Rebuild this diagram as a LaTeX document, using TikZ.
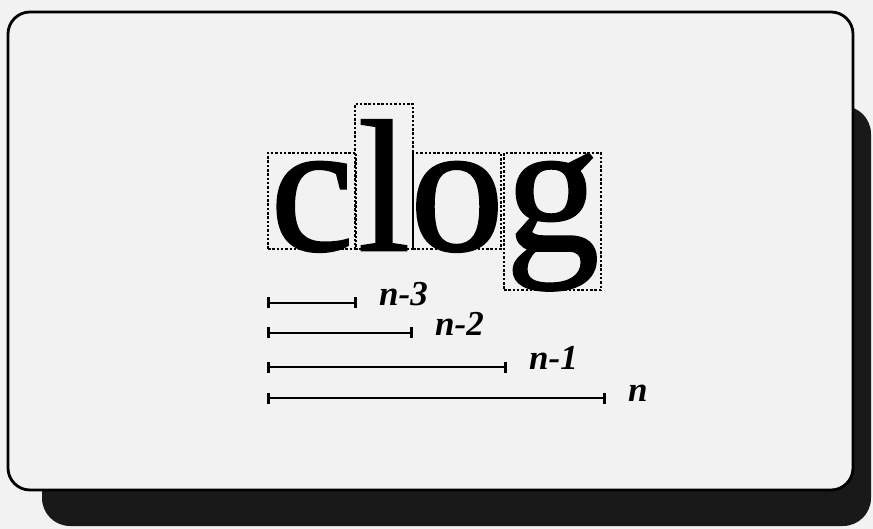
\documentclass[tikz,border=0pt]{standalone}
\usepackage{fontspec}
\setmainfont{Liberation Serif}
\newfontfamily\clogfont[FakeBold=1.1]{Liberation Serif}
\usetikzlibrary{arrows.meta,positioning}
\tikzset{lb/.style={draw,line width=2.5pt,dash pattern=on 2.5pt off 1.8pt,inner sep=0pt},gl/.style={inner sep=0pt,anchor=base,font=\fontsize{188}{188}\clogfont},br/.style={{Bar[width=11pt]}-{Bar[width=11pt]},line width=2.6pt},lab/.style={anchor=base west,inner sep=0pt,font=\fontsize{35}{35}\selectfont\bfseries\itshape}}

\begin{document}
\begin{tikzpicture}[x=1pt,y=-1pt]
\fill[black!5](0,0)rectangle(873,529);
\fill[black!90,rounded corners=28pt](42,106)rectangle(871,526);
\draw[line width=2.8pt,fill=black!5,rounded corners=22pt](8,12)rectangle(853,490);
% letter boxes
\node[lb,minimum width=88pt,minimum height=96pt](bc)at(312,201){};
\node[lb,minimum width=58pt,minimum height=145pt](bl)at(384,176.5){};
\node[lb,minimum width=88pt,minimum height=96pt](bo)at(457,201){};
\node[lb,minimum width=97pt,minimum height=137pt](bg)at(552.5,221.5){};
\node[gl](c)at(bc.south){c};\node[gl](l)at(bl.south){l};\node[gl](o)at(bo.south){o};
\node[gl](g)at(bg.south|-bc.south){g};
% lengths
\foreach\i/\y/\e/\t in{1/303/357/n-3,2/333/413/n-2,3/367/507/n-1,4/398/606/n}{
\coordinate(s\i)at(267,\y);\coordinate(e\i)at(\e,\y);
\draw[br](s\i)--(e\i);
\node[lab](t\i)at([xshift=22pt,yshift=-3pt]e\i){\t};}
\end{tikzpicture}
\end{document}
